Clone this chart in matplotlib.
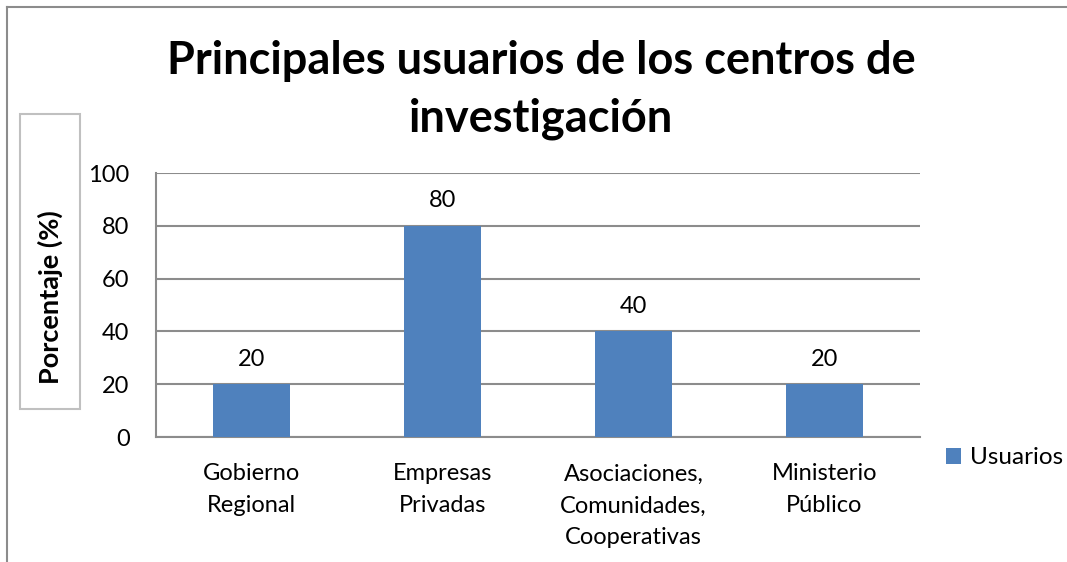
import numpy as np
import matplotlib
matplotlib.use("Agg")
import matplotlib.pyplot as plt
from matplotlib.patches import Rectangle

categories = ["Gobierno\nRegional", "Empresas\nPrivadas",
              "Asociaciones,\nComunidades,\nCooperativas", "Ministerio\nPúblico"]
usuarios = [20, 80, 40, 20]
yticks = [0, 20, 40, 60, 80, 100]

plt.rcParams['font.family'] = ['Lato', 'DejaVu Sans']

fig = plt.figure(figsize=(10.67, 5.62), dpi=100)
W, H = 1067, 562
# plot area in pixels: left 156, right 920, top 173, bottom 437
ax = fig.add_axes([156 / W, 1 - 437 / H, (920 - 156) / W, (437 - 173) / H])

x = np.arange(len(categories))
ax.bar(x, usuarios, width=0.4, color='#4F81BD', label='Usuarios', zorder=3)
for xi, v in zip(x, usuarios):
    ax.text(xi, v + 5.5, str(v), ha='center', va='bottom', fontsize=17)

ax.set_xlim(-0.5, len(categories) - 0.5)
ax.set_ylim(0, 100)
ax.set_yticks(yticks)
ax.set_xticks(x)
ax.set_xticklabels(categories, fontsize=17.5, linespacing=1.65)
ax.tick_params(axis='both', length=0, labelsize=17)
ax.tick_params(axis='y', pad=19)
ax.tick_params(axis='x', pad=19)
ax.grid(axis='y', color='#8c8c8c', linewidth=1.5, zorder=0)
for s in ['top', 'right']:
    ax.spines[s].set_visible(False)
for s in ['left', 'bottom']:
    ax.spines[s].set_color('#8c8c8c')
    ax.spines[s].set_linewidth(1.5)

fig.text(541 / W, 1 - 90 / H, "Principales usuarios de los centros de\ninvestigación",
         ha='center', va='center', fontsize=32.5, fontweight='bold', linespacing=1.45)

# y label with box
fig.patches.append(Rectangle((20 / W, 1 - 409 / H), 60 / W, 295 / H,
                             transform=fig.transFigure, fill=False,
                             edgecolor='#c0c0c0', linewidth=1.5))
fig.text(50 / W, 1 - 297 / H, "Porcentaje (%)", rotation=90, ha='center', va='center',
         fontsize=19.5, fontweight='bold')

# outer chart border (left and top)
fig.add_artist(plt.Line2D([7 / W, 7 / W], [0, 1 - 7 / H], transform=fig.transFigure,
                          color='#8c8c8c', linewidth=1.5))
fig.add_artist(plt.Line2D([7 / W, 1], [1 - 7 / H, 1 - 7 / H], transform=fig.transFigure,
                          color='#8c8c8c', linewidth=1.5))

fig.legend(loc='center left', bbox_to_anchor=(946 / W, 1 - 458 / H), frameon=False,
           fontsize=17.5, handlelength=0.6, handleheight=0.6, handletextpad=0.4,
           borderpad=0, borderaxespad=0)

fig.savefig("out.png", dpi=100)
